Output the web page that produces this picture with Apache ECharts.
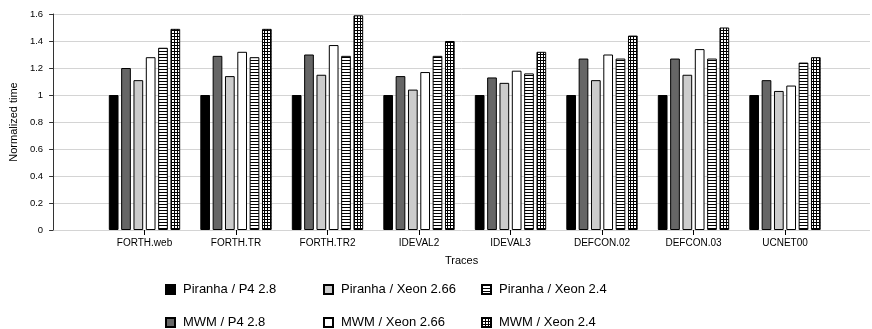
<!DOCTYPE html>
<html>
<head>
<meta charset="utf-8">
<script src="https://cdn.jsdelivr.net/npm/echarts@6/dist/echarts.min.js"></script>
<style>
html,body{margin:0;padding:0;background:#fff;}
#chart{width:872px;height:329px;}
</style>
</head>
<body>
<div id="chart"></div>
<script>
const categories = ['FORTH.web','FORTH.TR','FORTH.TR2','IDEVAL2','IDEVAL3','DEFCON.02','DEFCON.03','UCNET00'];
const piranhaP4 = [1, 1, 1, 1, 1, 1, 1, 1];
const mwmP4 = [1.20, 1.29, 1.30, 1.14, 1.13, 1.27, 1.27, 1.11];
const piranhaXeon266 = [1.11, 1.14, 1.15, 1.04, 1.09, 1.11, 1.15, 1.03];
const mwmXeon266 = [1.28, 1.32, 1.37, 1.17, 1.18, 1.30, 1.34, 1.07];
const piranhaXeon24 = [1.35, 1.28, 1.29, 1.29, 1.16, 1.27, 1.27, 1.24];
const mwmXeon24 = [1.49, 1.49, 1.59, 1.40, 1.32, 1.44, 1.50, 1.28];
const yTicks = [0, 0.2, 0.4, 0.6, 0.8, 1, 1.2, 1.4, 1.6];

function makePattern(kind) {
  const c = document.createElement('canvas');
  c.width = 3; c.height = 3;
  const g = c.getContext('2d');
  g.fillStyle = '#ffffff'; g.fillRect(0, 0, 3, 3);
  g.fillStyle = '#000000';
  g.fillRect(0, 0, 3, 1);
  if (kind === 'grid') g.fillRect(0, 0, 1, 3);
  return {image: c, repeat: 'repeat'};
}

const seriesDefs = [
  {name: 'Piranha / P4 2.8', data: piranhaP4, color: '#000000'},
  {name: 'MWM / P4 2.8', data: mwmP4, color: '#666666'},
  {name: 'Piranha / Xeon 2.66', data: piranhaXeon266, color: '#cccccc'},
  {name: 'MWM / Xeon 2.66', data: mwmXeon266, color: '#ffffff'},
  {name: 'Piranha / Xeon 2.4', data: piranhaXeon24, color: makePattern('stripes')},
  {name: 'MWM / Xeon 2.4', data: mwmXeon24, color: makePattern('grid')}
];

const legendPos = [
  {name: 'Piranha / P4 2.8', left: 165, top: 283},
  {name: 'Piranha / Xeon 2.66', left: 323, top: 283},
  {name: 'Piranha / Xeon 2.4', left: 481, top: 283},
  {name: 'MWM / P4 2.8', left: 165, top: 316},
  {name: 'MWM / Xeon 2.66', left: 323, top: 316},
  {name: 'MWM / Xeon 2.4', left: 481, top: 316}
];

const font = 'Liberation Sans, Arial, sans-serif';
const chart = echarts.init(document.getElementById('chart'), null, {renderer: 'canvas'});

chart.setOption({
  animation: false,
  backgroundColor: '#ffffff',
  textStyle: {fontFamily: font},
  grid: [
    {left: 47, right: 2, top: 14, bottom: 99, containLabel: false},
    {left: 98.75, right: 41.25, top: 14, bottom: 99, containLabel: false}
  ],
  legend: legendPos.map(p => ({
    data: [p.name], left: p.left, top: p.top, padding: 0,
    icon: 'rect', itemWidth: 9, itemHeight: 9,
    textStyle: {fontSize: 13, color: '#000', fontFamily: font, padding: [0, 0, 0, 3]},
    selectedMode: false
  })),
  xAxis: [
    {gridIndex: 0, type: 'value', min: 0, max: 1, name: 'Traces', nameLocation: 'middle', nameGap: 25,
      nameTextStyle: {fontSize: 11, color: '#000', fontFamily: font},
      axisLine: {show: false}, axisTick: {show: false}, axisLabel: {show: false}, splitLine: {show: false}},
    {gridIndex: 1, type: 'category', data: categories,
      axisLine: {show: false},
      axisTick: {show: true, alignWithLabel: true, length: 5, lineStyle: {color: '#000', width: 1}},
      axisLabel: {fontSize: 10, color: '#000', margin: 8, fontFamily: font}}
  ],
  yAxis: [
    {gridIndex: 0, type: 'value', min: yTicks[0], max: yTicks[yTicks.length - 1], interval: 0.2,
      name: 'Normalized time', nameLocation: 'middle', nameGap: 31,
      nameTextStyle: {fontSize: 11, color: '#000', fontFamily: font},
      axisLine: {show: true, lineStyle: {color: '#333', width: 1}},
      axisTick: {show: true, length: 4, inside: false, lineStyle: {color: '#333'}},
      axisLabel: {fontSize: 9.5, color: '#000', margin: 10, fontFamily: font},
      splitLine: {show: true, lineStyle: {color: '#d4d4d4', width: 1}}},
    {gridIndex: 1, type: 'value', min: yTicks[0], max: yTicks[yTicks.length - 1], interval: 0.2, show: false,
      splitLine: {show: false}}
  ],
  series: seriesDefs.map(s => ({
    name: s.name, type: 'bar', xAxisIndex: 1, yAxisIndex: 1,
    data: s.data, barGap: '27%', barCategoryGap: '22%',
    itemStyle: {color: s.color, borderColor: '#000', borderWidth: 1}
  }))
});
</script>
</body>
</html>
